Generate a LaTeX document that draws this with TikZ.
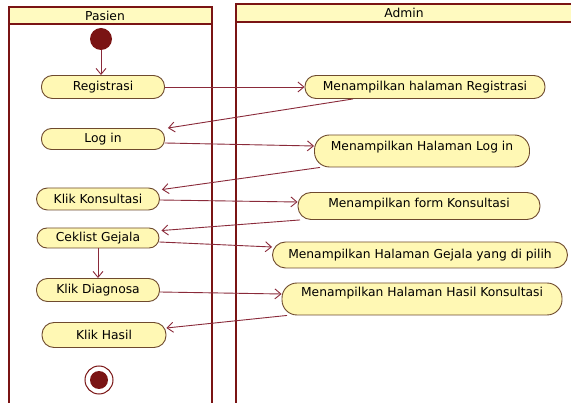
\documentclass[tikz,border=0pt]{standalone}
\usepackage{fontspec}
\setmainfont{DejaVu Sans}
\usetikzlibrary{arrows.meta,calc}
\definecolor{lanered}{HTML}{7A1414}
\definecolor{hdrfill}{HTML}{FFFAC0}
\definecolor{actfill}{HTML}{FFF8B4}
\definecolor{actline}{HTML}{6E4A2E}
\definecolor{flowcol}{HTML}{8A2A3A}
\newcommand{\upby}[2]{\raisebox{#1}[\height][\depth]{#2}}
\tikzset{
  act/.style={draw=actline, line width=0.9pt, fill=actfill, rectangle, rounded corners=#1,
    inner sep=0pt, font=\fontsize{12.3}{14}\selectfont},
  act/.default=11pt,
  lane/.style={draw=lanered, line width=2.2pt},
  hdr/.style={draw=lanered, line width=2pt, fill=hdrfill},
  flow/.style={draw=flowcol, line width=0.9pt, -{Straight Barb[length=6pt,width=10pt]}}
}
\begin{document}
\begin{tikzpicture}[x=1pt,y=-1pt]
\useasboundingbox (0,0) rectangle (571,403);
\fill[white] (0,0) rectangle (571,403);
% lanes
\draw[lane] (9,7) -- (9,405);
\draw[lane] (212,7) -- (212,405);
\draw[lane] (236,4) -- (236,405);
\draw[hdr] (9,7) rectangle (212,24);
\draw[hdr] (236,4) rectangle (575,22);
\node[font=\fontsize{12.3}{14}\selectfont] (hpas) at (105,16) {Pasien};
\node[font=\fontsize{12.3}{14}\selectfont] (hadm) at (404,13) {Admin};
% start / end
\node[circle, fill=lanered, inner sep=0pt, minimum size=22pt] (start) at (101,39) {};
\node[circle, draw=lanered, line width=1pt, fill=white, inner sep=0pt, minimum size=28pt] (endo) at (99,380) {};
\node[circle, fill=lanered, inner sep=0pt, minimum size=18pt] (endi) at (99,380) {};
% Pasien activities
\node[act, minimum width=123pt, minimum height=23pt] (reg) at (103,87) {Registrasi};
\node[act=10pt, minimum width=123pt, minimum height=21pt] (login) at (103,139) {Log in};
\node[act, minimum width=123pt, minimum height=22pt] (kk) at (98,199) {Klik Konsultasi};
\node[act=10pt, minimum width=122pt, minimum height=20pt] (ck) at (98,238) {Ceklist Gejala};
\node[act, minimum width=123pt, minimum height=23pt] (kd) at (98,290) {Klik Diagnosa};
\node[act=12pt, minimum width=124pt, minimum height=25pt] (kh) at (104,335) {Klik Hasil};
% Admin activities
\node[act, minimum width=240pt, minimum height=23pt] (mreg) at (425,87) {Menampilkan halaman Registrasi};
\node[act=15pt, minimum width=215pt, minimum height=32pt] (mlogin) at (422,151) {\upby{4pt}{Menampilkan Halaman Log in}};
\node[act=13pt, minimum width=242pt, minimum height=27pt] (mform) at (419,206) {\upby{2pt}{Menampilkan form Konsultasi}};
\node[act=13pt, minimum width=295pt, minimum height=26pt] (mgej) at (420,255) {Menampilkan Halaman Gejala yang di pilih};
\node[act=15pt, minimum width=280pt, minimum height=32pt] (mhasil) at (422,299) {\upby{6pt}{Menampilkan Halaman Hasil Konsultasi}};
% flows
\draw[flow] (start.south) -- (start.south |- reg.north);
\draw[flow] (reg.east) -- (mreg.west);
\draw[flow] ([xshift=-72pt]mreg.south) -- ([xshift=3pt]login.north east);
\draw[flow] ([yshift=-4pt]login.east) -- ([yshift=5pt]mlogin.west);
\draw[flow] ([xshift=-102pt]mlogin.south) -- ([xshift=2pt,yshift=-2pt]kk.north east);
\draw[flow] ([yshift=-1pt]kk.east) -- ([yshift=4pt]mform.west);
\draw[flow] ([xshift=-119pt]mform.south) -- ([xshift=2pt,yshift=-3pt]ck.north east);
\draw[flow] ([yshift=-4pt]ck.east) -- ([yshift=8pt]mgej.west);
\draw[flow] (ck.south) -- (kd.north);
\draw[flow] ([yshift=-2pt]kd.east) -- ([yshift=5pt]mhasil.west);
\draw[flow] ([xshift=-135pt]mhasil.south) -- ([yshift=7pt]kh.east);
\end{tikzpicture}
\end{document}
